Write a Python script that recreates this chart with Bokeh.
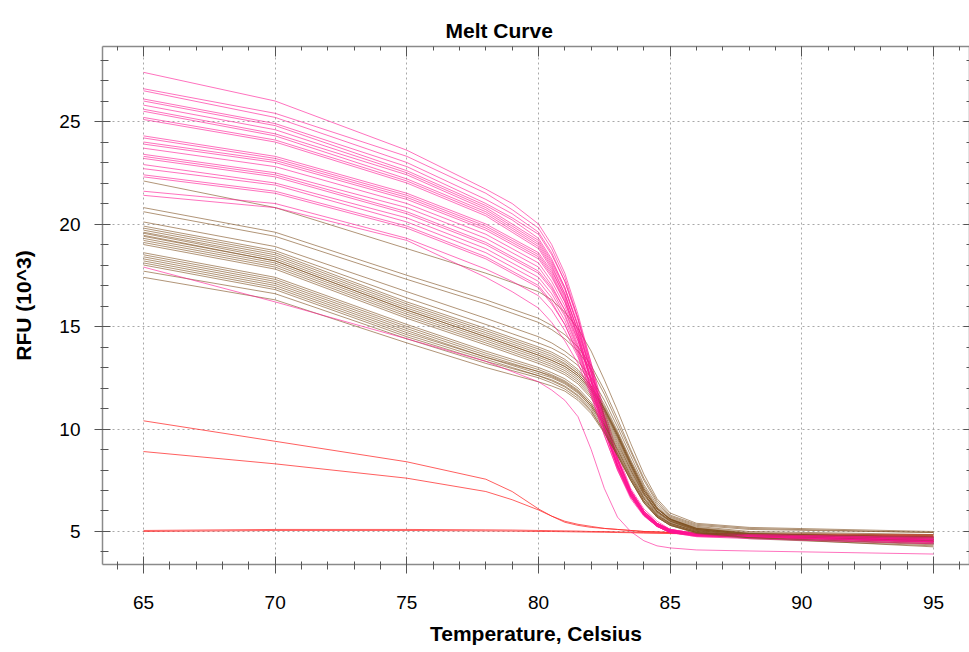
from bokeh.plotting import figure
from bokeh.models import ColumnDataSource, LinearAxis, Range1d, FixedTicker
from bokeh.embed import file_html
from bokeh.resources import INLINE

# Temperatures (Celsius) at which each curve's RFU (x10^3) was read
temps = [65, 70, 75, 78, 79, 80, 80.5, 81, 81.5, 82, 82.5, 83, 83.5, 84, 84.5, 85, 86, 88, 95]

pink_curves = [
    [27.4, 26.0, 23.6, 21.7, 21.0, 20.0, 19.0, 17.6, 15.6, 13.2, 10.7, 8.6, 7.0, 6.0, 5.4, 5.1, 4.9, 4.85, 4.7],
    [26.6, 25.4, 23.3, 21.5, 20.7, 19.8, 18.8, 17.4, 15.4, 13.0, 10.6, 8.5, 7.0, 6.0, 5.4, 5.1, 4.9, 4.85, 4.75],
    [26.5, 25.2, 23.0, 21.2, 20.5, 19.6, 18.6, 17.2, 15.3, 13.0, 10.5, 8.5, 6.9, 5.9, 5.35, 5.05, 4.85, 4.8, 4.6],
    [26.1, 24.9, 22.8, 21.0, 20.3, 19.5, 18.5, 17.2, 15.4, 13.2, 10.9, 8.8, 7.1, 6.1, 5.5, 5.1, 4.9, 4.85, 4.65],
    [26.0, 24.8, 22.6, 20.9, 20.2, 19.3, 18.3, 16.9, 15.0, 12.7, 10.3, 8.3, 6.8, 5.85, 5.3, 5.0, 4.85, 4.8, 4.55],
    [25.8, 24.6, 22.5, 20.8, 20.0, 19.2, 18.2, 16.9, 15.1, 12.9, 10.6, 8.6, 7.0, 6.0, 5.4, 5.05, 4.85, 4.8, 4.6],
    [25.6, 24.4, 22.4, 20.7, 19.9, 19.1, 18.1, 16.8, 15.0, 12.8, 10.5, 8.5, 6.9, 5.9, 5.35, 5.05, 4.9, 4.85, 4.7],
    [25.5, 24.3, 22.2, 20.6, 19.8, 19.0, 18.0, 16.6, 14.7, 12.4, 10.1, 8.2, 6.7, 5.8, 5.25, 4.95, 4.8, 4.75, 4.5],
    [25.2, 24.1, 22.1, 20.5, 19.7, 18.9, 17.9, 16.6, 14.8, 12.7, 10.5, 8.5, 6.9, 5.95, 5.4, 5.05, 4.85, 4.8, 4.6],
    [25.1, 24.0, 22.0, 20.4, 19.6, 18.8, 17.8, 16.4, 14.5, 12.3, 10.0, 8.1, 6.7, 5.8, 5.25, 4.95, 4.8, 4.75, 4.55],
    [24.3, 23.3, 21.5, 20.0, 19.3, 18.6, 17.7, 16.5, 14.8, 12.8, 10.6, 8.6, 7.0, 6.0, 5.4, 5.1, 4.9, 4.85, 4.7],
    [24.2, 23.2, 21.4, 19.9, 19.2, 18.5, 17.6, 16.3, 14.6, 12.5, 10.3, 8.4, 6.9, 5.9, 5.35, 5.05, 4.85, 4.8, 4.6],
    [24.0, 23.1, 21.3, 19.8, 19.1, 18.4, 17.5, 16.2, 14.4, 12.3, 10.1, 8.2, 6.8, 5.85, 5.3, 5.0, 4.8, 4.75, 4.5],
    [23.9, 23.0, 21.2, 19.7, 19.0, 18.3, 17.4, 16.2, 14.5, 12.5, 10.4, 8.5, 6.9, 5.95, 5.4, 5.05, 4.85, 4.8, 4.6],
    [23.7, 22.8, 21.0, 19.5, 18.8, 18.1, 17.2, 16.0, 14.3, 12.3, 10.2, 8.3, 6.8, 5.9, 5.35, 5.05, 4.9, 4.85, 4.65],
    [23.4, 22.5, 20.8, 19.3, 18.6, 17.9, 17.0, 15.8, 14.1, 12.1, 10.0, 8.2, 6.8, 5.85, 5.3, 5.0, 4.8, 4.75, 4.5],
    [23.3, 22.4, 20.6, 19.1, 18.4, 17.7, 16.9, 15.8, 14.3, 12.4, 10.4, 8.5, 7.0, 6.0, 5.4, 5.05, 4.85, 4.8, 4.6],
    [23.2, 22.3, 20.5, 19.0, 18.3, 17.6, 16.8, 15.6, 14.0, 12.0, 9.9, 8.1, 6.7, 5.8, 5.25, 4.95, 4.8, 4.75, 4.55],
    [22.9, 22.0, 20.3, 18.8, 18.1, 17.4, 16.6, 15.5, 13.9, 12.0, 10.0, 8.2, 6.8, 5.85, 5.3, 5.0, 4.8, 4.75, 4.5],
    [22.7, 21.9, 20.1, 18.6, 17.9, 17.2, 16.4, 15.3, 13.8, 12.0, 10.1, 8.3, 6.9, 5.9, 5.35, 5.05, 4.85, 4.8, 4.6],
    [22.4, 21.6, 19.9, 18.4, 17.7, 17.0, 16.2, 15.1, 13.6, 11.7, 9.7, 8.0, 6.6, 5.75, 5.25, 4.95, 4.75, 4.7, 4.45],
    [22.3, 21.5, 19.8, 18.3, 17.6, 16.9, 16.1, 15.1, 13.7, 11.9, 10.0, 8.2, 6.8, 5.85, 5.3, 5.0, 4.8, 4.75, 4.5],
    [21.6, 21.0, 19.3, 17.8, 17.2, 16.5, 15.8, 14.8, 13.5, 11.8, 9.9, 8.2, 6.8, 5.85, 5.3, 5.0, 4.8, 4.75, 4.5],
    [21.4, 20.8, 19.2, 17.4, 16.7, 15.9, 15.2, 14.3, 13.2, 11.6, 9.7, 8.0, 6.7, 5.8, 5.25, 4.95, 4.75, 4.65, 4.4],
    [17.9, 16.2, 14.4, 13.3, 12.8, 12.3, 11.9, 11.4, 10.6, 9.0, 7.1, 5.7, 5.0, 4.55, 4.3, 4.2, 4.1, 4.05, 3.9],
]

brown_curves = [
    [22.1, 20.8, 18.8, 17.6, 17.15, 16.7, 16.3, 15.7, 14.9, 13.8, 12.4, 10.9, 9.3, 7.8, 6.6, 5.9, 5.4, 5.2, 5.0],
    [20.8, 19.6, 17.5, 16.3, 15.85, 15.4, 15.05, 14.6, 14.0, 13.1, 11.9, 10.5, 9.0, 7.6, 6.5, 5.8, 5.35, 5.15, 4.95],
    [20.6, 19.4, 17.3, 16.1, 15.65, 15.2, 14.85, 14.4, 13.8, 12.9, 11.7, 10.3, 8.9, 7.5, 6.4, 5.75, 5.3, 5.1, 4.95],
    [20.1, 18.9, 16.7, 15.4, 14.95, 14.5, 14.2, 13.8, 13.3, 12.5, 11.4, 10.1, 8.7, 7.3, 6.3, 5.7, 5.25, 5.0, 4.85],
    [19.9, 18.7, 16.4, 15.1, 14.65, 14.2, 13.95, 13.6, 13.1, 12.3, 11.2, 9.9, 8.5, 7.2, 6.2, 5.65, 5.2, 4.95, 4.8],
    [19.8, 18.6, 16.2, 14.9, 14.45, 14.0, 13.75, 13.4, 12.9, 12.1, 11.1, 9.8, 8.4, 7.1, 6.15, 5.6, 5.15, 4.9, 4.7],
    [19.7, 18.5, 16.1, 14.8, 14.35, 13.9, 13.65, 13.3, 12.8, 12.1, 11.0, 9.7, 8.3, 7.0, 6.1, 5.6, 5.15, 4.9, 4.75],
    [19.6, 18.4, 16.0, 14.7, 14.25, 13.8, 13.55, 13.2, 12.7, 12.0, 11.0, 9.7, 8.3, 7.0, 6.1, 5.6, 5.1, 4.85, 4.65],
    [19.55, 18.3, 15.9, 14.6, 14.15, 13.7, 13.45, 13.15, 12.7, 12.0, 11.0, 9.8, 8.4, 7.1, 6.15, 5.6, 5.15, 4.9, 4.7],
    [19.45, 18.2, 15.8, 14.5, 14.05, 13.6, 13.35, 13.05, 12.6, 11.9, 10.9, 9.7, 8.3, 7.0, 6.1, 5.6, 5.15, 4.9, 4.6],
    [19.4, 18.2, 15.8, 14.5, 14.05, 13.6, 13.35, 13.05, 12.6, 11.9, 10.9, 9.6, 8.2, 6.9, 6.0, 5.55, 5.1, 4.85, 4.7],
    [19.3, 18.1, 15.7, 14.4, 13.95, 13.5, 13.25, 12.95, 12.5, 11.8, 10.8, 9.6, 8.2, 6.9, 6.0, 5.55, 5.1, 4.85, 4.6],
    [19.2, 18.0, 15.6, 14.3, 13.85, 13.4, 13.15, 12.85, 12.4, 11.7, 10.7, 9.5, 8.1, 6.85, 6.0, 5.5, 5.1, 4.85, 4.55],
    [19.1, 17.9, 15.5, 14.2, 13.75, 13.3, 13.05, 12.75, 12.3, 11.6, 10.6, 9.4, 8.0, 6.8, 5.95, 5.5, 5.05, 4.8, 4.6],
    [19.0, 17.8, 15.4, 14.1, 13.65, 13.2, 12.95, 12.65, 12.2, 11.5, 10.5, 9.3, 8.0, 6.8, 5.95, 5.5, 5.05, 4.8, 4.5],
    [18.6, 17.4, 15.1, 13.8, 13.4, 13.0, 12.75, 12.45, 12.0, 11.3, 10.4, 9.2, 7.9, 6.7, 5.9, 5.45, 5.05, 4.8, 4.55],
    [18.5, 17.3, 15.0, 13.7, 13.3, 12.9, 12.65, 12.35, 11.9, 11.2, 10.3, 9.1, 7.8, 6.65, 5.85, 5.4, 5.0, 4.75, 4.5],
    [18.4, 17.2, 14.9, 13.6, 13.2, 12.8, 12.6, 12.3, 11.85, 11.2, 10.2, 9.0, 7.7, 6.6, 5.8, 5.4, 5.0, 4.75, 4.45],
    [18.3, 17.1, 14.8, 13.5, 13.15, 12.8, 12.55, 12.25, 11.8, 11.1, 10.2, 9.0, 7.7, 6.6, 5.8, 5.4, 5.0, 4.75, 4.5],
    [18.2, 17.0, 14.7, 13.5, 13.1, 12.7, 12.5, 12.2, 11.75, 11.1, 10.1, 8.9, 7.6, 6.5, 5.75, 5.35, 4.95, 4.7, 4.4],
    [18.1, 16.9, 14.6, 13.4, 13.0, 12.6, 12.4, 12.1, 11.65, 11.0, 10.0, 8.8, 7.6, 6.5, 5.75, 5.35, 4.95, 4.7, 4.4],
    [18.0, 16.8, 14.5, 13.3, 12.95, 12.6, 12.35, 12.05, 11.6, 10.9, 9.9, 8.8, 7.5, 6.45, 5.7, 5.3, 4.95, 4.7, 4.35],
    [17.7, 16.6, 14.4, 13.2, 12.85, 12.5, 12.25, 11.95, 11.5, 10.85, 9.85, 8.7, 7.5, 6.4, 5.7, 5.3, 4.9, 4.65, 4.3],
    [17.4, 16.3, 14.2, 13.0, 12.65, 12.3, 12.1, 11.85, 11.4, 10.75, 9.8, 8.7, 7.5, 6.4, 5.7, 5.3, 4.95, 4.7, 4.25],
]

red_curves = [
    [10.4, 9.4, 8.4, 7.55, 6.95, 6.1, 5.75, 5.45, 5.3, 5.2, 5.15, 5.1, 5.05, 5.0, 4.98, 4.95, 4.9, 4.85, 4.75],
    [8.9, 8.3, 7.6, 6.95, 6.55, 6.05, 5.75, 5.5, 5.35, 5.25, 5.15, 5.1, 5.05, 5.0, 4.98, 4.95, 4.9, 4.85, 4.75],
    [5.05, 5.1, 5.1, 5.08, 5.07, 5.05, 5.04, 5.03, 5.02, 5.0, 5.0, 4.98, 4.97, 4.95, 4.94, 4.93, 4.9, 4.88, 4.85],
    [5.0, 5.05, 5.05, 5.03, 5.02, 5.0, 5.0, 4.99, 4.98, 4.97, 4.96, 4.95, 4.94, 4.92, 4.91, 4.9, 4.88, 4.85, 4.8],
]

x_ticks = [65, 70, 75, 80, 85, 90, 95]
y_ticks = [5, 10, 15, 20, 25]
x_minor = list(range(63, 97))
y_minor = list(range(4, 29))

PINK, BROWN, RED = "#ff1493", "#7d4e1e", "#ff2a2a"

# draw order: red first, then brown and pink interleaved
xs, ys, cols, alphas = [], [], [], []
for c in red_curves:
    xs.append(temps); ys.append(c); cols.append(RED); alphas.append(0.75)
n = max(len(pink_curves), len(brown_curves))
for i in range(n):
    if i < len(brown_curves):
        xs.append(temps); ys.append(brown_curves[i]); cols.append(BROWN); alphas.append(0.6)
    if i < len(pink_curves):
        xs.append(temps); ys.append(pink_curves[i]); cols.append(PINK); alphas.append(0.6)

src = ColumnDataSource(dict(xs=xs, ys=ys, color=cols, alpha=alphas))

p = figure(width=969, height=652, output_backend="svg", toolbar_location=None,
           x_range=Range1d(63.443, 96.367), y_range=Range1d(3.39, 28.66),
           min_border_left=102, min_border_right=0, min_border_top=46, min_border_bottom=88,
           title="Melt Curve")
p.outline_line_color = None
p.background_fill_color = "white"
p.border_fill_color = "white"

p.multi_line(xs="xs", ys="ys", line_color="color", line_alpha="alpha", line_width=1, source=src)

p.title.text_font = "Liberation Sans"
p.title.text_font_size = "21px"
p.title.text_font_style = "bold"
p.title.text_color = "black"
p.title.align = "left"
p.title.vertical_align = "bottom"
p.title.offset = 343
try:
    # extra bottom room lifts the title towards the top edge
    p.title.padding = (0, 0, 10, 0)
except Exception:
    pass

AX = "#8a8a8a"
TK = "#555555"
for ax in (p.xaxis[0], p.yaxis[0]):
    ax.axis_line_color = AX
    ax.axis_line_width = 1.5
    ax.major_tick_line_color = TK
    ax.minor_tick_line_color = TK
    ax.major_label_text_font = "Liberation Sans"
    ax.major_label_text_font_size = "19px"
    ax.major_label_text_color = "black"
    ax.axis_label_text_font = "Liberation Sans"
    ax.axis_label_text_font_size = "21px"
    ax.axis_label_text_font_style = "bold"
    ax.axis_label_text_color = "black"

p.xaxis.ticker = FixedTicker(ticks=x_ticks, minor_ticks=x_minor)
p.yaxis.ticker = FixedTicker(ticks=y_ticks, minor_ticks=y_minor)
p.xaxis.axis_label = "Temperature, Celsius"
p.yaxis.axis_label = "RFU (10^3)"
p.xaxis.major_tick_in = 8
p.xaxis.major_tick_out = 9
p.xaxis.minor_tick_in = 3
p.xaxis.minor_tick_out = 5
p.xaxis.major_label_standoff = 22
p.xaxis.axis_label_standoff = 10
p.yaxis.major_tick_in = 8
p.yaxis.major_tick_out = 8
p.yaxis.minor_tick_in = 6
p.yaxis.minor_tick_out = 2
p.yaxis.major_label_standoff = 14
p.yaxis.axis_label_standoff = 21

top = LinearAxis(ticker=FixedTicker(ticks=x_ticks, minor_ticks=x_minor),
                 major_label_text_font_size="0px", major_label_standoff=0,
                 major_tick_in=10, major_tick_out=0, minor_tick_in=4, minor_tick_out=0,
                 axis_line_color=AX, axis_line_width=1.5,
                 major_tick_line_color=TK, minor_tick_line_color=TK)
p.add_layout(top, "above")
right = LinearAxis(ticker=FixedTicker(ticks=y_ticks, minor_ticks=y_minor),
                   major_label_text_font_size="0px", major_label_standoff=0,
                   major_tick_in=6, major_tick_out=0, minor_tick_in=3, minor_tick_out=0,
                   axis_line_color=AX, axis_line_width=1.5,
                   major_tick_line_color=TK, minor_tick_line_color=TK)
p.add_layout(right, "right")

for g, t in ((p.xgrid[0], x_ticks), (p.ygrid[0], y_ticks)):
    g.ticker = FixedTicker(ticks=t)
    g.grid_line_color = "#a8a8a8"
    g.grid_line_dash = "2 3"
    g.grid_line_width = 1

open("out.html", "w").write(file_html(p, INLINE))
